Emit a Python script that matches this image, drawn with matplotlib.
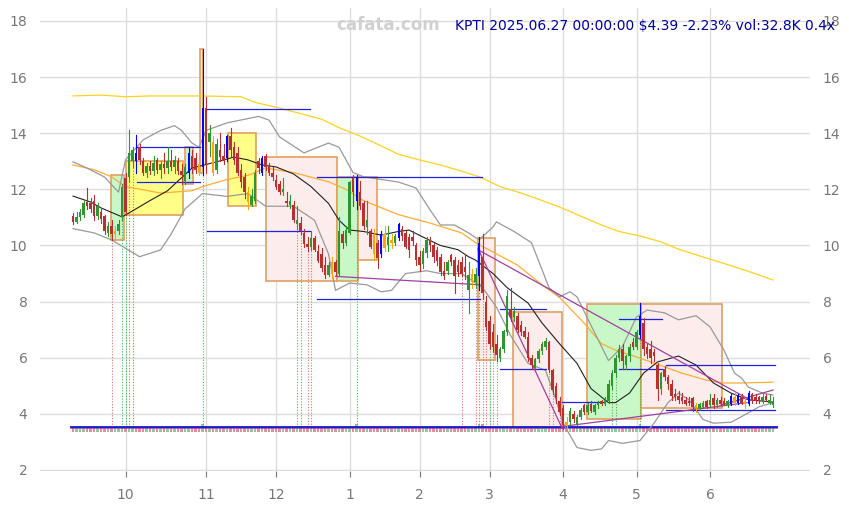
import matplotlib
matplotlib.use("Agg")
import matplotlib.pyplot as plt
from matplotlib.patches import Rectangle

# daily candles, Sep 10 2024 .. Jun 27 2025 (trading-day index 0..200)
opens = [11.05, 10.85, 11.0, 11.1, 11.55, 11.5, 11.6, 11.05, 11.2, 11.05,
         10.45, 10.7, 10.4, 10.5, 11.0, 12.4, 12.45, 13.0, 13.3, 13.5,
         13.0, 12.6, 12.85, 12.65, 13.05, 12.7, 12.9, 12.75, 13.0, 12.8,
         13.0, 12.65, 12.3, 12.6, 13.2, 13.1, 12.9, 12.8, 14.9, 13.7,
         13.7, 12.7, 13.4, 13.2, 13.1, 13.9, 13.5, 13.3, 12.7, 12.45,
         11.9, 11.45, 11.6, 13.0, 12.6, 13.2, 12.85, 12.6, 12.35, 12.2,
         11.9, 11.6, 11.45, 11.45, 10.75, 10.8, 10.45, 10.05, 9.95, 10.25,
         9.8, 9.7, 9.3, 8.95, 9.4, 9.4, 9.0, 10.4, 10.1, 10.45,
         12.4, 11.6, 11.9, 11.5, 10.65, 10.5, 10.4, 10.1, 9.7, 10.4,
         10.0, 10.2, 10.1, 10.25, 10.6, 10.45, 10.3, 10.3, 10.0, 9.6,
         9.35, 9.75, 10.2, 10.0, 9.85, 9.6, 9.1, 9.1, 9.65, 9.5,
         9.3, 9.4, 9.25, 8.4, 9.0, 8.7, 8.9, 9.6, 8.0, 7.3,
         6.9, 6.5, 6.0, 6.3, 6.9, 7.75, 7.45, 7.5, 7.15, 6.95,
         6.75, 6.0, 5.65, 5.95, 6.25, 6.4, 6.55, 5.55, 5.0, 4.45,
         4.2, 3.7, 3.7, 4.0, 3.65, 3.9, 4.3, 4.05, 4.35, 4.05,
         4.3, 4.45, 4.35, 4.45, 5.0, 5.45, 6.0, 6.3, 5.75, 6.05,
         6.55, 6.4, 6.8, 7.25, 6.4, 6.3, 6.2, 5.75, 4.9, 5.6,
         5.3, 5.05, 4.7, 4.65, 4.6, 4.5, 4.45, 4.55, 4.3, 4.2,
         4.25, 4.45, 4.3, 4.55, 4.3, 4.5, 4.45, 4.3, 4.35, 4.6,
         4.4, 4.6, 4.45, 4.35, 4.7, 4.6, 4.6, 4.45, 4.65, 4.4,
         4.3]
highs = [11.15, 11.2, 11.3, 11.6, 12.05, 11.7, 11.8, 11.5, 11.3, 11.1,
         10.85, 10.9, 10.7, 10.9, 12.2, 12.6, 14.1, 13.5, 13.95, 13.6,
         13.1, 12.95, 13.0, 13.2, 13.1, 13.0, 13.3, 13.5, 13.4, 13.2,
         13.1, 12.9, 12.9, 13.5, 13.4, 13.3, 13.3, 17.0, 15.3, 14.3,
         13.9, 13.8, 14.0, 13.6, 13.95, 14.2, 13.7, 13.5, 12.9, 12.6,
         12.1, 12.0, 12.7, 13.1, 13.2, 13.25, 12.95, 12.8, 12.5, 12.3,
         12.4, 11.9, 11.8, 11.6, 11.4, 11.0, 10.6, 10.3, 10.5, 10.35,
         10.0, 9.9, 9.6, 9.4, 9.6, 9.5, 11.0, 10.5, 10.7, 12.3,
         12.5, 12.5, 12.3, 11.6, 11.6, 10.6, 10.6, 10.2, 10.5, 10.7,
         10.7, 10.4, 10.4, 10.8, 10.7, 10.5, 10.4, 10.5, 10.1, 9.8,
         9.9, 10.3, 10.3, 10.1, 9.95, 9.7, 9.4, 9.5, 9.7, 9.6,
         9.5, 9.6, 9.7, 9.4, 9.15, 9.2, 10.3, 10.4, 8.2, 7.5,
         7.2, 6.8, 6.4, 7.0, 8.4, 8.5, 7.8, 7.6, 7.3, 7.1,
         6.9, 6.1, 6.0, 6.3, 6.55, 6.7, 6.6, 5.6, 5.1, 4.6,
         4.3, 3.9, 4.2, 4.1, 3.95, 4.2, 4.35, 4.4, 4.45, 4.35,
         4.45, 4.5, 4.6, 5.2, 5.55, 6.1, 6.45, 6.5, 6.1, 6.5,
         6.7, 7.0, 7.95, 7.4, 6.5, 6.6, 6.3, 5.8, 5.5, 5.7,
         5.4, 5.2, 4.9, 4.8, 4.75, 4.6, 4.6, 4.6, 4.4, 4.4,
         4.45, 4.5, 4.7, 4.7, 4.55, 4.6, 4.55, 4.5, 4.7, 4.75,
         4.7, 4.7, 4.55, 4.8, 4.75, 4.7, 4.65, 4.7, 4.7, 4.7,
         4.6]
lows = [10.75, 10.8, 10.9, 11.0, 11.3, 11.2, 10.9, 10.95, 10.8, 10.4,
        10.35, 10.2, 10.2, 10.4, 10.9, 11.1, 12.3, 12.8, 12.6, 12.9,
        12.5, 12.45, 12.55, 12.5, 12.6, 12.4, 12.6, 12.6, 12.7, 12.6,
        12.55, 12.2, 12.2, 12.4, 12.6, 12.6, 12.5, 12.5, 12.6, 13.2,
        12.5, 12.6, 13.0, 12.9, 13.0, 13.2, 12.9, 12.5, 12.1, 11.7,
        11.3, 11.4, 11.5, 12.6, 12.5, 12.7, 12.5, 12.35, 12.0, 11.85,
        11.8, 11.4, 11.35, 10.85, 10.6, 10.4, 9.95, 9.8, 9.85, 9.8,
        9.4, 9.1, 8.85, 8.9, 8.85, 8.95, 8.95, 9.9, 10.0, 10.4,
        11.4, 11.3, 11.3, 10.6, 10.4, 9.9, 9.5, 9.2, 9.6, 9.8,
        9.8, 9.9, 10.0, 10.2, 10.2, 9.9, 9.6, 10.0, 9.3, 9.1,
        9.2, 9.6, 9.8, 9.4, 9.3, 8.95, 8.8, 9.0, 9.3, 8.3,
        8.9, 8.9, 8.8, 7.6, 8.5, 8.5, 8.4, 8.1, 7.0, 6.3,
        6.2, 5.9, 5.9, 6.2, 6.8, 7.3, 7.3, 6.9, 6.8, 6.7,
        5.9, 5.6, 5.55, 5.85, 6.15, 6.3, 5.5, 4.7, 4.4, 3.95,
        3.45, 3.45, 3.6, 3.7, 3.6, 3.8, 4.0, 4.0, 4.05, 4.0,
        4.2, 4.3, 4.3, 4.4, 4.9, 5.3, 5.9, 5.6, 5.6, 5.9,
        6.3, 6.3, 6.7, 6.1, 6.0, 5.8, 5.9, 4.5, 4.7, 5.2,
        4.9, 4.5, 4.5, 4.4, 4.4, 4.3, 4.3, 4.1, 4.05, 4.15,
        4.2, 4.2, 4.25, 4.2, 4.25, 4.3, 4.3, 4.25, 4.3, 4.3,
        4.35, 4.35, 4.2, 4.3, 4.4, 4.4, 4.4, 4.4, 4.45, 4.35,
        4.25]
closes = [10.85, 11.0, 11.2, 11.5, 11.4, 11.3, 11.05, 11.4, 10.95, 10.5,
          10.7, 10.4, 10.5, 10.75, 12.1, 11.2, 13.3, 13.4, 13.0, 13.05,
          12.6, 12.85, 12.65, 12.95, 12.7, 12.9, 12.75, 13.0, 12.8, 13.05,
          12.65, 12.5, 12.8, 13.3, 12.75, 12.7, 12.6, 14.9, 12.9, 14.0,
          12.6, 13.6, 13.15, 13.0, 13.9, 13.4, 13.05, 12.6, 12.25, 11.9,
          11.55, 11.75, 12.6, 12.75, 13.1, 12.8, 12.6, 12.45, 12.1, 11.9,
          12.0, 11.5, 11.6, 10.9, 10.9, 10.5, 10.05, 9.95, 10.25, 9.85,
          9.45, 9.2, 8.95, 9.3, 9.0, 9.05, 10.5, 10.1, 10.55, 12.25,
          11.9, 12.45, 11.4, 10.7, 10.9, 9.95, 9.7, 9.55, 10.4, 9.9,
          10.3, 10.1, 10.35, 10.75, 10.35, 9.95, 9.85, 10.15, 9.5, 9.3,
          9.8, 10.2, 10.0, 9.6, 9.45, 9.05, 8.9, 9.4, 9.4, 8.9,
          9.05, 9.0, 9.05, 8.95, 8.7, 9.0, 10.1, 8.3, 7.1, 6.5,
          6.4, 6.1, 6.3, 6.95, 8.2, 7.45, 7.65, 7.0, 6.9, 6.75,
          6.0, 5.75, 5.95, 6.25, 6.5, 6.6, 5.55, 4.85, 4.55, 4.05,
          3.6, 3.55, 4.1, 3.8, 3.9, 4.15, 4.05, 4.3, 4.1, 4.3,
          4.4, 4.35, 4.5, 5.05, 5.45, 6.0, 6.3, 5.9, 6.05, 6.4,
          6.4, 6.9, 7.5, 6.3, 6.15, 6.0, 6.05, 4.9, 5.45, 5.3,
          5.05, 4.65, 4.6, 4.5, 4.45, 4.35, 4.4, 4.25, 4.2, 4.35,
          4.4, 4.25, 4.5, 4.3, 4.5, 4.35, 4.35, 4.45, 4.65, 4.4,
          4.65, 4.4, 4.35, 4.75, 4.5, 4.45, 4.45, 4.6, 4.5, 4.49,
          4.39]
blue_days = [18, 33, 37, 44, 54, 81, 88, 93, 116, 162, 188, 190, 193]
orange_days = [12, 36, 40, 50, 74, 86, 89, 91, 114, 141, 178, 189, 192]
tall_vol_days = [37, 81, 116, 117, 140, 162]

month_pos = [15, 38, 58, 79, 99, 119, 140, 161, 182]
month_lbl = ["10", "11", "12", "1", "2", "3", "4", "5", "6"]

# indicator lines (day index, price)
ma200_x = [0, 8, 15, 22, 36, 48, 52, 59, 65, 71, 76, 82, 88, 93, 99, 105, 111,
           116, 122, 128, 133, 139, 145, 151, 156, 162, 168, 173, 179, 185, 191, 196, 200]
ma200_y = [15.33, 15.36, 15.3, 15.33, 15.33, 15.3, 15.1, 14.9, 14.7, 14.5, 14.2, 13.9,
           13.55, 13.25, 13.05, 12.87, 12.65, 12.45, 12.1, 11.87, 11.65, 11.37, 11.05,
           10.73, 10.5, 10.34, 10.13, 9.87, 9.63, 9.4, 9.16, 8.95, 8.77]
ma50_x = [0, 6, 11, 15, 25, 34, 37, 44, 50, 55, 63, 73, 78, 83, 93, 102, 111, 115,
          121, 127, 134, 139, 146, 151, 155, 161, 170, 174, 181, 186, 191, 200]
ma50_y = [12.87, 12.7, 12.45, 12.1, 11.87, 11.95, 12.1, 12.35, 12.5, 12.76, 12.6, 12.27,
          12.0, 11.6, 11.1, 10.8, 10.45, 10.1, 9.7, 9.3, 8.6, 8.15, 7.24, 6.5, 6.27,
          6.03, 5.63, 5.45, 5.2, 5.1, 5.1, 5.13]
ma20_x = [0, 5, 8, 14, 16, 22, 27, 34, 41, 46, 50, 54, 58, 63, 68, 73, 76, 79, 83,
          88, 93, 96, 100, 105, 110, 113, 115, 120, 124, 130, 134, 139, 144, 148, 153,
          155, 159, 163, 167, 173, 178, 183, 188, 193, 200]
ma20_y = [11.76, 11.55, 11.34, 11.02, 11.16, 11.6, 11.95, 12.76, 12.98, 13.15, 13.05,
          12.87, 12.8, 12.55, 12.1, 11.5, 10.9, 10.55, 10.5, 10.37, 10.5, 10.55, 10.3,
          10.0, 9.85, 9.6, 9.48, 9.0, 8.5, 7.95, 7.24, 6.5, 5.8, 4.9, 4.4, 4.4, 4.74,
          5.45, 5.85, 6.06, 5.74, 5.1, 4.74, 4.5, 4.42]
bb_up_x = [0, 4, 9, 13, 15, 20, 25, 29, 31, 34, 36, 38, 44, 53, 56, 59, 66, 73, 76,
           80, 83, 93, 98, 102, 105, 109, 113, 116, 120, 121, 126, 131, 136, 139, 142,
           144, 149, 153, 157, 161, 164, 169, 173, 178, 182, 186, 189, 191, 193, 197, 200]
bb_up_y = [12.98, 12.76, 12.44, 11.9, 13.05, 13.76, 14.1, 14.27, 14.1, 13.65, 13.5,
           14.1, 14.37, 14.6, 14.47, 13.87, 13.3, 13.65, 13.5, 12.6, 12.45, 12.26,
           12.05, 11.27, 10.73, 10.73, 10.45, 10.2, 10.66, 10.84, 10.5, 10.1, 8.5, 8.17,
           8.35, 8.17, 6.9, 5.9, 6.4, 7.45, 7.7, 7.6, 7.35, 7.5, 7.1, 6.27, 5.45, 5.28,
           4.95, 4.74, 4.67]
bb_lo_x = [0, 6, 11, 15, 19, 25, 28, 32, 37, 44, 50, 55, 63, 69, 73, 75, 79, 84, 88,
           91, 95, 101, 105, 111, 117, 121, 125, 130, 135, 138, 140, 144, 148, 151, 153,
           157, 162, 166, 170, 173, 176, 180, 183, 188, 191, 196, 200]
bb_lo_y = [10.6, 10.45, 10.2, 9.9, 9.6, 9.84, 10.4, 11.3, 11.85, 11.75, 11.85, 11.4,
           11.4, 10.9, 9.7, 8.4, 8.66, 8.6, 8.35, 8.4, 9.0, 9.1, 9.0, 9.0, 8.5, 7.8, 6.8,
           5.8, 5.55, 4.5, 3.67, 2.8, 2.7, 2.75, 3.05, 2.95, 3.05, 3.67, 4.4, 4.74, 4.5,
           3.8, 3.67, 3.7, 3.9, 4.25, 4.4]

# zones: left, right, low, high, kind
box_l = [10.9, 15.1, 32.0, 36.3, 44.3, 55.1, 75.4, 81.4, 115.7, 125.7, 146.9, 162.3]
box_r = [14.6, 31.4, 34.3, 37.1, 52.3, 75.4, 81.4, 86.9, 120.6, 139.7, 162.3, 185.4]
box_lo = [10.2, 11.1, 12.2, 12.6, 11.4, 8.73, 8.73, 9.5, 5.92, 3.5, 3.82, 4.2]
box_hi = [12.5, 13.0, 13.5, 17.0, 14.0, 13.15, 12.45, 12.45, 10.27, 7.63, 7.92, 7.92]
box_kind = ["g", "y", "g", "o", "y", "p", "g", "p", "p", "p", "g", "p"]

# level segments: x0, x1, price
lvl_x0 = [18.3, 18.3, 38.3, 38.3, 69.7, 69.7, 122, 122, 139.7, 156, 156, 169.4, 169.4]
lvl_x1 = [36.3, 36.3, 67.7, 67.7, 116.9, 116.3, 135.1, 135.1, 151.4, 168.3, 168.3, 200.6, 200.6]
lvl_y = [13.5, 12.26, 14.87, 10.5, 12.45, 8.1, 7.74, 5.6, 4.42, 7.38, 5.6, 5.74, 4.14]

# trend lines: (x0, y0) -> (x1, y1)
tr_x0 = [75.0, 115.7, 115.7, 139.7, 184.9]
tr_y0 = [8.9, 9.9, 9.85, 3.55, 4.3]
tr_x1 = [116.3, 139.7, 193.4, 192.6, 200.0]
tr_y1 = [8.6, 3.5, 4.5, 4.4, 4.85]

red_marks = [11, 64, 65, 67, 68, 111, 115, 117, 118, 120, 121, 136, 137, 139]
green_marks = [14, 15, 16, 17, 37, 81, 116, 119, 154, 155, 162]

RED = "#b83030"
GREEN = "#2e962e"

fig = plt.figure(figsize=(8.49, 5.05), dpi=100)
ax = fig.add_axes([40 / 849, 34 / 505, 770 / 849, 463 / 505])
ax.set_xlim(-9.43, 210.57)
ax.set_ylim(1.964, 18.463)
ax.set_axisbelow(True)
ax.grid(color="#dddddd", lw=1)
for s in ax.spines.values():
    s.set_visible(False)

face = {"g": "#c8f8c8", "y": "#ffff88", "p": "#fdecec", "o": "#ffe6c0"}
for x0, x1, lo, hi, k in zip(box_l, box_r, box_lo, box_hi, box_kind):
    ax.add_patch(Rectangle((x0, lo), x1 - x0, hi - lo, facecolor=face[k],
                           edgecolor="#e0a060", lw=1.2, zorder=1))

# bottom strip
n = len(closes)
days = list(range(n))
vcol = ["#dc90a0" if closes[i] < opens[i] else "#90c8a0" for i in days]
vh = [0.27 if i in tall_vol_days else 0.17 for i in days]
ax.bar(days, vh, bottom=3.36, width=0.85, color=vcol, zorder=2)
ax.plot([-0.5, n], [3.48, 3.48], color="#a040a0", lw=1.1, zorder=3)
ax.plot([-0.5, n], [3.52, 3.52], color="#1515d0", lw=1.3, zorder=3)

for i in red_marks:
    ax.plot([i, i], [3.52, lows[i]], color="#e07070", lw=0.8, ls=(0, (1, 1.5)), zorder=2)
for i in green_marks:
    ax.plot([i, i], [3.52, lows[i]], color="#50b050", lw=0.8, ls=(0, (1, 1.5)), zorder=2)

ax.plot(ma200_x, ma200_y, color="#ffd21e", lw=0.9, zorder=3)
ax.plot(ma50_x, ma50_y, color="#ffad33", lw=0.9, zorder=3)
ax.plot(bb_up_x, bb_up_y, color="#999999", lw=0.9, zorder=3)
ax.plot(bb_lo_x, bb_lo_y, color="#999999", lw=0.9, zorder=3)
ax.plot(ma20_x, ma20_y, color="#222222", lw=0.8, zorder=3)

for x0, x1, y in zip(lvl_x0, lvl_x1, lvl_y):
    ax.plot([x0, x1], [y, y], color="#2020e0", lw=0.9, zorder=4)
for x0, y0, x1, y1 in zip(tr_x0, tr_y0, tr_x1, tr_y1):
    ax.plot([x0, x1], [y0, y1], color="#a040a0", lw=0.9, zorder=4)

# candles
for i in days:
    o, h, l, c = opens[i], highs[i], lows[i], closes[i]
    if i in blue_days:
        col, w = "#0000ff", 0.45
    elif i in orange_days:
        col, w = "#ffa500", 0.75
    else:
        col, w = (GREEN if c >= o else RED), 0.75
    ax.plot([i, i], [l, h], color=col, lw=0.8, zorder=5)
    ax.bar(i, max(abs(c - o), 0.04), bottom=min(o, c), width=w, color=col, zorder=6)

ax.set_yticks(range(2, 19, 2))
ax.set_xticks(month_pos)
ax.set_xticklabels(month_lbl)
ax.tick_params(axis="y", length=0, labelright=True, labelcolor="#777777",
               labelsize=10, pad=9)
ax.tick_params(axis="x", length=4, color="#777777", labelcolor="#777777",
               labelsize=10, pad=8)

fig.text(388 / 849, 1 - 25 / 505, "cafata.com", ha="center", va="center",
         color="#d0d0d0", fontsize=12, fontweight="bold")
fig.text(455 / 849, 1 - 26 / 505, "KPTI 2025.06.27 00:00:00 $4.39 -2.23% vol:32.8K 0.4x",
         ha="left", va="center", color="#000099", fontsize=10)

fig.savefig("out.png", dpi=100)
